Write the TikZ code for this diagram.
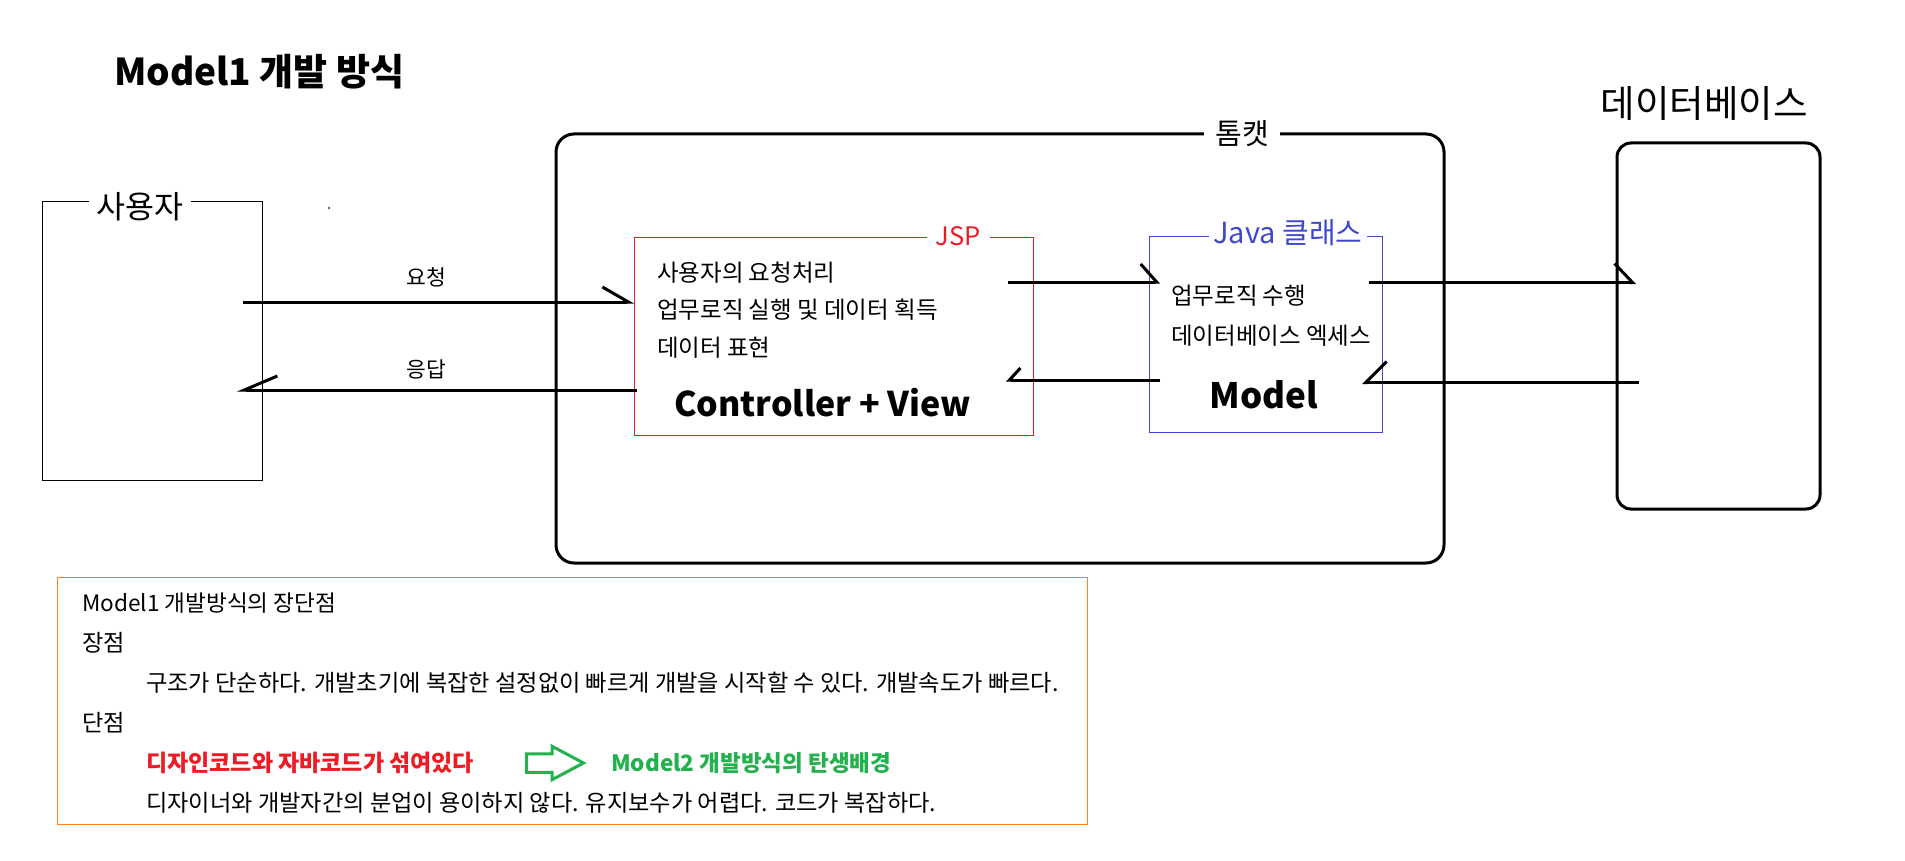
\documentclass[tikz,border=0pt]{standalone}
\usepackage{fontspec}
\setmainfont{Noto Sans CJK KR}
\usepackage{tikz}
\usetikzlibrary{arrows.meta,positioning,shapes.arrows}
\definecolor{jspred}{HTML}{ED1C24}
\definecolor{javablue}{HTML}{3F48CC}
\definecolor{notegreen}{HTML}{22B14C}
\definecolor{noteorange}{HTML}{FF7F27}

\begin{document}
\begin{tikzpicture}[
  x=1pt,y=-1pt,
  thinbox/.style={draw,line width=1pt,inner sep=0pt},
  serverbox/.style={draw,line width=3pt,inner sep=0pt},
  gaptag/.style={fill=white,inner ysep=0pt,inner xsep=#1},
  flow/.style={line width=3pt},
  barb/.style n args={3}{-{Straight Barb[#1,sharp,length=#2,width=#3]}},
  body/.style={inner sep=0pt,anchor=west,align=left,font=\fontsize{23.5}{37.5}\selectfont},
  note/.style={inner sep=0pt,anchor=west,font=\fontsize{23.2}{26}\selectfont},
  bigname/.style={inner sep=0pt,font=\bfseries\fontsize{#1}{#1}\selectfont}
]
\useasboundingbox (0,0) rectangle (1905,861);

\node[bigname=37,anchor=west] (title) at (114,72) {Model1 개발 방식};

% client
\node[thinbox,minimum width=220pt,minimum height=278pt] (user) at (152,341) {};
\node[gaptag=8pt,font=\fontsize{31.5}{33}\selectfont] (userlbl) at (140,207) {사용자};
\fill (329,208) circle (1pt);

% tomcat
\node[serverbox,rounded corners=18pt,minimum width=888pt,minimum height=429pt] (tomcat) at (1000,348.5) {};
\node[gaptag=11pt,font=\fontsize{29}{30}\selectfont] (tomcatlbl) at (1242,134) {톰캣};

% jsp
\node[thinbox,draw=jspred,minimum width=399pt,minimum height=198pt] (jsp) at (833.5,336) {};
\node[gaptag=9pt,text=jspred,font=\fontsize{25.5}{27}\selectfont] (jsplbl) at (958,236) {JSP};
\node[body] (jsptext) at (657,310) {사용자의 요청처리\\업무로직 실행 및 데이터 획득\\데이터 표현};
\node[bigname=34] (cv) at (822.5,403) {Controller + View};

% java class
\node[thinbox,draw=javablue,minimum width=233pt,minimum height=196pt] (java) at (1265.5,334) {};
\node[gaptag=4.5pt,text=javablue,font=\fontsize{29}{30}\selectfont] (javalbl) at (1288,233) {Java 클래스};
\node[body,font=\fontsize{23.5}{40}\selectfont] (javatext) at (1171,316) {업무로직 수행\\데이터베이스 엑세스};
\node[bigname=35] (model) at (1264,395) {Model};

% database
\node[serverbox,rounded corners=14pt,minimum width=203pt,minimum height=366pt] (db) at (1718.5,326) {};
\node[inner sep=0pt,font=\fontsize{37.5}{39}\selectfont] (dblbl) at (1704,103) {데이터베이스};

% request / response
\coordinate (reqA) at (243,302);
\coordinate (reqB) at (634,302);
\coordinate (respA) at (637,390);
\coordinate (respB) at (237,390);
\draw[flow,barb={left}{26pt}{30pt}] (reqA) -- (reqB);
\draw[flow,barb={right}{33pt}{28pt}] (respA) -- (respB);
\node[inner sep=0pt,font=\fontsize{21.5}{23}\selectfont] (reqlbl) at (426,277) {요청};
\node[inner sep=0pt,font=\fontsize{21.5}{23}\selectfont] (resplbl) at (426,369) {응답};

% jsp <-> model
\coordinate (callA) at (1008,282);
\coordinate (callB) at (1160,282);
\coordinate (retA) at (1160,380);
\coordinate (retB) at (1006,380);
\draw[flow,barb={left}{16pt}{36pt}] (callA) -- (callB);
\draw[flow,barb={right}{11pt}{24pt}] (retA) -- (retB);

% model <-> database
\coordinate (queryA) at (1369,282.5);
\coordinate (queryB) at (1636,282.5);
\coordinate (rowsA) at (1639,382.5);
\coordinate (rowsB) at (1362,382.5);
\draw[flow,barb={left}{18pt}{38pt}] (queryA) -- (queryB);
\draw[flow,barb={right}{21pt}{42pt}] (rowsA) -- (rowsB);

% pros and cons
\node[thinbox,draw=noteorange,minimum width=1030pt,minimum height=247pt] (notes) at (572,700.5) {};
\node[note,font=\fontsize{22.6}{26}\selectfont] (head) at (82,603) {Model1 개발방식의 장단점};
\node[note] (pros) at (82,643) {장점};
\node[note] (prostext) at (146,683) {구조가 단순하다. 개발초기에 복잡한 설정없이 빠르게 개발을 시작할 수 있다. 개발속도가 빠르다.};
\node[note] (cons) at (82,723) {단점};
\node[note,text=jspred,font=\bfseries\fontsize{23}{26}\selectfont] (mixed) at (146,763) {디자인코드와 자바코드가 섞여있다};
\node[single arrow,draw=notegreen,line width=3pt,fill=white,anchor=tail,inner sep=0pt,
      text height=15.5pt,text depth=0pt,text width=0pt,minimum width=0pt,minimum height=57pt,
      single arrow head extend=7.5pt,single arrow tip angle=56] (next) at (525,763) {};
\node[note,text=notegreen,font=\bfseries\fontsize{22.5}{26}\selectfont] (model2) at (611,763) {Model2 개발방식의 탄생배경};
\node[note] (constext) at (146,803) {디자이너와 개발자간의 분업이 용이하지 않다. 유지보수가 어렵다. 코드가 복잡하다.};
\end{tikzpicture}
\end{document}
